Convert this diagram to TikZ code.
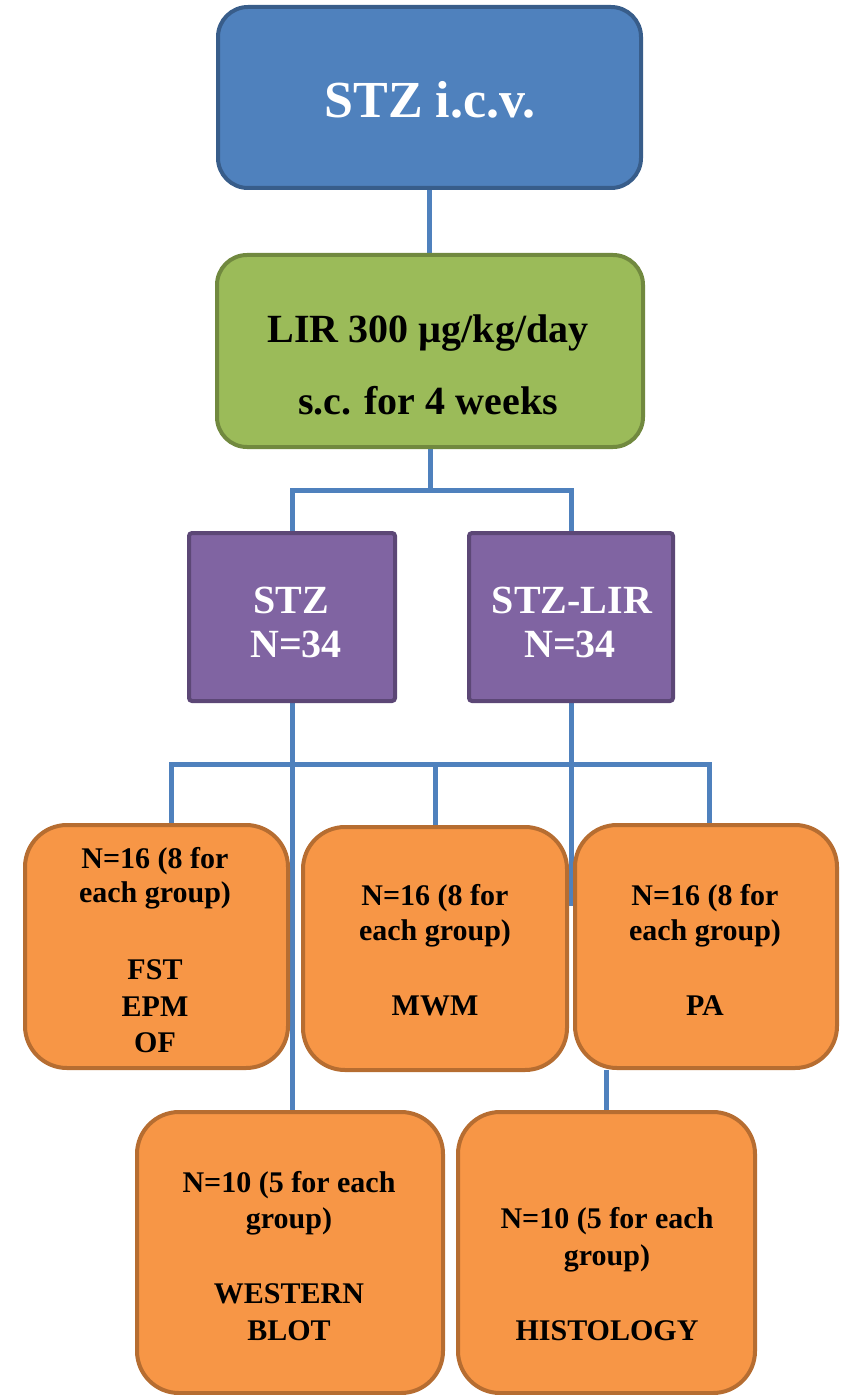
\documentclass[tikz,border=0pt]{standalone}
\usepackage{fontspec}
\setmainfont{Liberation Serif}
\usetikzlibrary{backgrounds}
\definecolor{cblue}{HTML}{4F81BD}
\definecolor{cblueb}{HTML}{385D8A}
\definecolor{cgreen}{HTML}{9BBB59}
\definecolor{cgreenb}{HTML}{71893F}
\definecolor{cpurp}{HTML}{8064A2}
\definecolor{cpurpb}{HTML}{5C4776}
\definecolor{corange}{HTML}{F79646}
\definecolor{coranb}{HTML}{B66D31}
\definecolor{cline}{HTML}{4F81BD}
\tikzset{
  bx/.style={draw, line width=2pt, inner sep=0pt},
  bluebox/.style={bx, fill=cblue, draw=cblueb, rounded corners=15pt},
  greenbox/.style={bx, fill=cgreen, draw=cgreenb, rounded corners=15pt},
  purpbox/.style={bx, fill=cpurp, draw=cpurpb, rounded corners=1.5pt, minimum width=103pt, minimum height=84pt},
  orbox/.style={bx, fill=corange, draw=coranb, rounded corners=21pt},
  conn/.style={draw=cline, line width=2.5pt},
  wt/.style={text=white, anchor=base, inner sep=0pt, font=\bfseries\fontsize{20}{24}\selectfont},
  bt/.style={text=black, anchor=base, inner sep=0pt, font=\bfseries\fontsize{20}{24}\selectfont},
  ot/.style={text=black, anchor=base, inner sep=0pt, font=\bfseries\fontsize{15}{18}\selectfont},
}
\begin{document}
\begin{tikzpicture}[x=0.5pt,y=-0.5pt]
\useasboundingbox (0,0) rectangle (845,1395);
% boxes
\node[bluebox, minimum width=211.5pt, minimum height=90.5pt] (icv) at (429.5,97.5) {};
\node[greenbox, minimum width=213pt, minimum height=96pt] (lir) at (430,351) {};
\node[purpbox] (stz) at (292,617) {};
\node[purpbox, minimum width=102pt] (stzlir) at (571,617) {};
\node[orbox, minimum width=131.5pt, minimum height=121.5pt] (fst) at (156.5,946.5) {};
\node[orbox, minimum width=132pt, minimum height=121.5pt] (mwm) at (435,948.5) {};
\node[orbox, minimum width=131pt, minimum height=121.5pt] (pa) at (706,946.5) {};
\node[orbox, minimum width=153pt, minimum height=140.5pt] (wb) at (290,1252.5) {};
\node[orbox, minimum width=148.5pt, minimum height=140.5pt] (hist) at (606.5,1252.5) {};
% coordinates
\coordinate (fork) at (430,490);
\coordinate (busL) at (171,764);
\coordinate (busR) at (709,764);
\coordinate (lirend) at (571,906);
\begin{scope}[on background layer]
\draw[conn] (icv.south) -- (icv.south |- lir.north);
\draw[conn] (lir.south -| fork) -- (fork);
\draw[conn] (stz.north) |- (fork) -| (stzlir.north);
\draw[conn] (stz.south) -- (stz.south |- wb.north);
\draw[conn] (busL |- fst.north) -- (busL) -- (busR) -- (busR |- pa.north);
\draw[conn] (mwm.north) -- (mwm.north |- busL);
\draw[conn] (stzlir.south) -- (lirend);
\draw[conn] (hist.north |- pa.south) -- (hist.north);
\end{scope}
% texts
\node[wt, font=\bfseries\fontsize{26}{30}\selectfont] (ticv) at (430,118) {STZ i.c.v.};
\node[bt] (tlir1) at (428,343) {LIR 300 µg/kg/day};
\node[bt] (tlir2) at (428,415) {s.c. for 4 weeks};
\node[wt] (tstz1) at (291,613) {STZ};
\node[wt] (tstz2) at (296,657) {N=34};
\node[wt] (tsl1) at (572,613) {STZ-LIR};
\node[wt] (tsl2) at (570,657) {N=34};
\node[ot] (f1) at (155,868) {N=16 (8 for};
\node[ot] (f2) at (155,902) {each group)};
\node[ot] (f3) at (155,979) {FST};
\node[ot] (f4) at (155,1016) {EPM};
\node[ot] (f5) at (155,1052) {OF};
\node[ot] (m1) at (435,905) {N=16 (8 for};
\node[ot] (m2) at (435,940) {each group)};
\node[ot] (m3) at (435,1015) {MWM};
\node[ot] (p1) at (705,905) {N=16 (8 for};
\node[ot] (p2) at (705,940) {each group)};
\node[ot] (p3) at (705,1015) {PA};
\node[ot] (w1) at (289,1192) {N=10 (5 for each};
\node[ot] (w2) at (289,1228) {group)};
\node[ot] (w3) at (289,1303) {WESTERN};
\node[ot] (w4) at (289,1340) {BLOT};
\node[ot] (h1) at (607,1228) {N=10 (5 for each};
\node[ot] (h2) at (607,1265) {group)};
\node[ot] (h3) at (607,1340) {HISTOLOGY};
\end{tikzpicture}
\end{document}
